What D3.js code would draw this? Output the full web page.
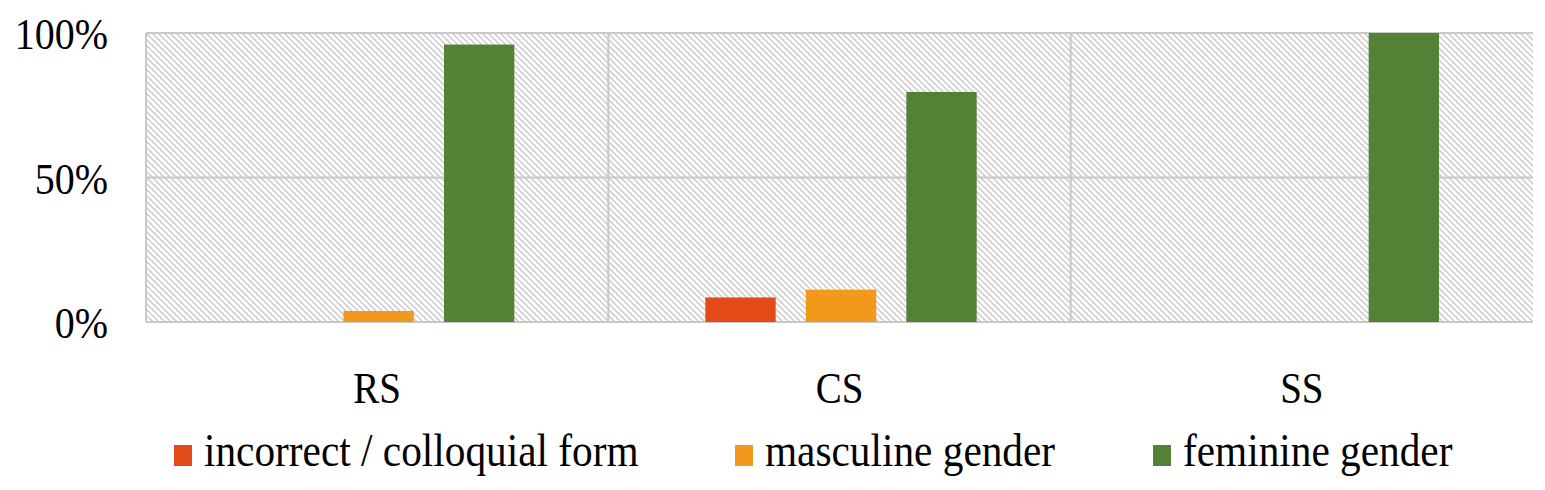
<!DOCTYPE html>
<html>
<head>
<meta charset="utf-8">
<script src="https://cdn.jsdelivr.net/npm/d3@7"></script>
<style>
  html, body { margin: 0; padding: 0; background: #fff; }
  svg { display: block; }
</style>
</head>
<body>
<svg id="chart" width="1545" height="490"></svg>
<script>
const categories = ["RS", "CS", "SS"];
const seriesNames = ["incorrect / colloquial form", "masculine gender", "feminine gender"];
const seriesColors = ["#E24A17", "#F2981A", "#538135"];
const incorrectValues = [0, 8.5, 0];
const masculineValues = [3.8, 11.2, 0];
const feminineValues = [96, 79.6, 100];
const yTicks = [0, 50, 100];
const yTickLabels = ["0%", "50%", "100%"];

const seriesValues = [incorrectValues, masculineValues, feminineValues];
const FONT = "'Liberation Serif', 'Times New Roman', Tinos, 'DejaVu Serif', serif";

const svg = d3.select("#chart");
const margin = { left: 146, right: 12, top: 33, bottom: 168 };
const W = 1545, H = 490;
const plotW = W - margin.left - margin.right;
const plotH = H - margin.top - margin.bottom;

// hatch pattern
const defs = svg.append("defs");
const pat = defs.append("pattern")
  .attr("id", "hatch")
  .attr("patternUnits", "userSpaceOnUse")
  .attr("width", 6).attr("height", 6);
pat.append("path")
  .attr("d", "M0,0 L6,6 M-1,5 L1,7 M5,-1 L7,1")
  .attr("stroke", "#c6c6c6")
  .attr("stroke-width", 1.3)
  .attr("fill", "none");

const g = svg.append("g").attr("transform", `translate(${margin.left},${margin.top})`);

const x0 = d3.scaleBand().domain(categories).range([0, plotW]).padding(0);
const x1 = d3.scaleBand().domain(seriesNames).range([0, x0.bandwidth()])
  .paddingInner(0.3).paddingOuter(0.95);
const y = d3.scaleLinear().domain([0, 100]).range([plotH, 0]);

// background hatch
g.append("rect")
  .attr("x", 0).attr("y", 0)
  .attr("width", plotW).attr("height", plotH)
  .attr("fill", "url(#hatch)");

// horizontal grid
g.selectAll(".hgrid").data(yTicks).enter().append("line")
  .attr("x1", 0).attr("x2", plotW)
  .attr("y1", d => y(d)).attr("y2", d => y(d))
  .attr("stroke", "#c8c8c8").attr("stroke-width", 2);

// vertical separators
g.selectAll(".vgrid").data(categories).enter().append("line")
  .attr("x1", d => x0(d)).attr("x2", d => x0(d))
  .attr("y1", 0).attr("y2", plotH)
  .attr("stroke", "#c8c8c8").attr("stroke-width", 2);

// bars
const groups = g.selectAll(".grp").data(categories).enter().append("g")
  .attr("transform", d => `translate(${x0(d) + 1.5},0)`);
groups.each(function(cat, ci) {
  const sel = d3.select(this);
  seriesNames.forEach((s, si) => {
    const v = seriesValues[si][ci];
    if (v <= 0) return;
    sel.append("rect")
      .attr("x", x1(s))
      .attr("y", y(v))
      .attr("width", x1.bandwidth())
      .attr("height", y(0) - y(v))
      .attr("fill", seriesColors[si]);
  });
});

const vScale = 1.12;

// y labels
g.selectAll(".ylab").data(yTicks).enter().append("text")
  .attr("text-anchor", "end")
  .attr("font-family", FONT)
  .attr("font-size", 40)
  .attr("fill", "#000")
  .attr("transform", d => `translate(${108 - margin.left},${y(d) + 16}) scale(1,${vScale})`)
  .text((d, i) => yTickLabels[i]);

// category labels
g.selectAll(".xlab").data(categories).enter().append("text")
  .attr("text-anchor", "middle")
  .attr("font-family", FONT)
  .attr("font-size", 39)
  .attr("fill", "#000")
  .attr("transform", d => `translate(${x0(d) + x0.bandwidth() / 2},${403 - margin.top}) scale(1,${vScale})`)
  .text(d => d);

// legend
const legendX = [174, 735, 1153];
const leg = svg.append("g");
seriesNames.forEach((s, i) => {
  leg.append("rect")
    .attr("x", legendX[i]).attr("y", 445)
    .attr("width", 18).attr("height", 21)
    .attr("fill", seriesColors[i]);
  leg.append("text")
    .attr("font-family", FONT)
    .attr("font-size", 41.3)
    .attr("fill", "#000")
    .attr("transform", `translate(${legendX[i] + 30},466) scale(1,1.1)`)
    .text(s);
});
</script>
</body>
</html>
